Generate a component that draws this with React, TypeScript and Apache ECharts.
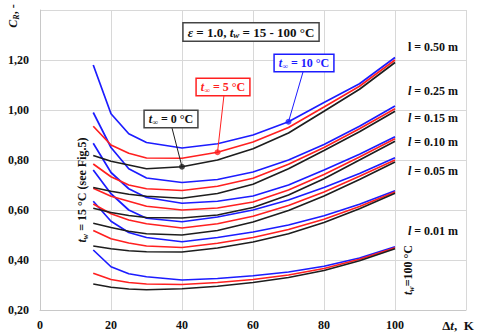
import React, { useEffect, useRef } from "react";
import * as echarts from "echarts";

// Δt, K
const X = [15, 20, 25, 30, 40, 50, 60, 70, 80, 90, 100];

// l = 0.50 m
const blue050 = [1.18, 0.985, 0.905, 0.87, 0.848, 0.865, 0.9, 0.953, 1.03, 1.105, 1.21];
const red050 = [0.935, 0.86, 0.827, 0.808, 0.807, 0.831, 0.872, 0.93, 1.012, 1.095, 1.2];
const black050 = [0.818, 0.795, 0.78, 0.765, 0.773, 0.8, 0.845, 0.908, 0.995, 1.083, 1.19];
// l = 0.25 m
const blue025 = [0.99, 0.85, 0.765, 0.728, 0.71, 0.722, 0.752, 0.8, 0.862, 0.935, 1.016];
const red025 = [0.784, 0.733, 0.7, 0.685, 0.678, 0.695, 0.727, 0.783, 0.85, 0.925, 1.005];
const black025 = [0.69, 0.675, 0.663, 0.655, 0.647, 0.666, 0.703, 0.765, 0.838, 0.913, 0.995];
// l = 0.15 m
const blue015 = [0.867, 0.75, 0.685, 0.65, 0.627, 0.635, 0.656, 0.7, 0.76, 0.823, 0.893];
const red015 = [0.687, 0.655, 0.635, 0.615, 0.6, 0.608, 0.632, 0.68, 0.742, 0.812, 0.885];
const black015 = [0.607, 0.59, 0.578, 0.57, 0.568, 0.58, 0.61, 0.66, 0.725, 0.8, 0.875];
// l = 0.10 m
const blue010 = [0.76, 0.665, 0.6, 0.567, 0.553, 0.572, 0.6, 0.64, 0.69, 0.746, 0.809];
const red010 = [0.624, 0.585, 0.56, 0.545, 0.528, 0.545, 0.575, 0.618, 0.672, 0.735, 0.8];
const black010 = [0.547, 0.53, 0.515, 0.505, 0.5, 0.518, 0.552, 0.598, 0.656, 0.722, 0.792];
// l = 0.05 m
const blue005 = [0.635, 0.555, 0.51, 0.49, 0.473, 0.49, 0.512, 0.54, 0.577, 0.623, 0.677];
const red005 = [0.518, 0.485, 0.468, 0.456, 0.45, 0.467, 0.49, 0.522, 0.563, 0.614, 0.672];
const black005 = [0.456, 0.445, 0.437, 0.433, 0.432, 0.448, 0.472, 0.505, 0.55, 0.605, 0.667];
// l = 0.01 m
const blue001 = [0.44, 0.373, 0.345, 0.333, 0.32, 0.326, 0.337, 0.352, 0.375, 0.408, 0.453];
const red001 = [0.347, 0.322, 0.31, 0.304, 0.302, 0.31, 0.322, 0.34, 0.366, 0.403, 0.449];
const black001 = [0.304, 0.291, 0.284, 0.281, 0.285, 0.295, 0.31, 0.33, 0.358, 0.397, 0.445];

const X_TICKS_MAX_SHOWN = 100;
const Y_TICKS_MAX_SHOWN = 1.2;
const lengthLabels = ["l = 0.50 m", "l = 0.25 m", "l = 0.15 m", "l = 0.10 m", "l = 0.05 m", "l = 0.01 m"];

const BLUE = "#1c1cff";
const RED = "#ff2020";
const BLACK = "#1e1e1e";
const SERIF = "'Liberation Serif', 'DejaVu Serif', serif";

const groups = [
  { blue: blue050, red: red050, black: black050 },
  { blue: blue025, red: red025, black: black025 },
  { blue: blue015, red: red015, black: black015 },
  { blue: blue010, red: red010, black: black010 },
  { blue: blue005, red: red005, black: black005 },
  { blue: blue001, red: red001, black: black001 },
];

function lineSeries(arr: number[], color: string) {
  return {
    type: "line",
    data: X.map((x, i) => [x, arr[i]]),
    showSymbol: false,
    symbol: "none",
    lineStyle: { color, width: 1.7 },
    z: color === BLUE ? 3 : color === RED ? 4 : 5,
  };
}

function richStyle(color: string, size: number) {
  return {
    n: { fontFamily: SERIF, fontWeight: "bold", fontSize: size, fill: color, lineHeight: size + 2 },
    i: { fontFamily: SERIF, fontWeight: "bold", fontStyle: "italic", fontSize: size, fill: color, lineHeight: size + 2 },
    s: { fontFamily: SERIF, fontWeight: "bold", fontStyle: "italic", fontSize: Math.round(size * 0.7), fill: color, verticalAlign: "bottom", lineHeight: size - 2 },
  };
}

export default function App() {
  const ref = useRef<HTMLDivElement>(null);
  useEffect(() => {
    const chart = echarts.init(ref.current!, undefined, { renderer: "svg", width: 480, height: 334 });
    const series: any[] = [];
    groups.forEach((g) => {
      series.push(lineSeries(g.blue, BLUE));
      series.push(lineSeries(g.red, RED));
      series.push(lineSeries(g.black, BLACK));
    });
    const dots = [
      { x: X[4], y: black050[4], c: BLACK },
      { x: X[5], y: red050[5], c: RED },
      { x: X[7], y: blue050[7], c: BLUE },
    ];
    dots.forEach((d) => {
      series.push({
        type: "scatter",
        data: [[d.x, d.y]],
        symbolSize: 6,
        itemStyle: { color: d.c },
        z: 10,
      });
    });
    chart.setOption({
      animation: false,
      backgroundColor: "#fff",
      grid: { left: 40, right: 14, top: 10, bottom: 24 },
      xAxis: {
        type: "value",
        min: 0,
        max: 120,
        interval: 20,
        axisLine: { show: true, lineStyle: { color: "#c8c8c8" } },
        axisTick: { show: false },
        splitLine: { show: true, lineStyle: { color: "#d8d8d8" } },
        axisLabel: {
          color: "#111",
          fontFamily: SERIF,
          fontWeight: "bold",
          fontSize: 12,
          margin: 9,
          formatter: (v: number) => (v > X_TICKS_MAX_SHOWN ? "" : String(v)),
        },
      },
      yAxis: {
        type: "value",
        min: 0.2,
        max: 1.4,
        interval: 0.2,
        axisLine: { show: true, lineStyle: { color: "#c8c8c8" } },
        axisTick: { show: false },
        splitLine: { show: true, lineStyle: { color: "#d8d8d8" } },
        axisLabel: {
          color: "#111",
          fontFamily: SERIF,
          fontWeight: "bold",
          fontSize: 12,
          margin: 11,
          formatter: (v: number) => (v > Y_TICKS_MAX_SHOWN + 0.01 ? "" : v.toFixed(2).replace(".", ",")),
        },
      },
      series,
    });

    const px = (x: number, y: number) => chart.convertToPixel({ gridIndex: 0 }, [x, y]) as number[];
    const pk = px(dots[0].x, dots[0].y);
    const pr = px(dots[1].x, dots[1].y);
    const pb = px(dots[2].x, dots[2].y);

    const box = (x: number, y: number, text: string, color: string, size: number, border: string) => ({
      type: "text",
      x,
      y,
      z: 20,
      style: {
        text,
        rich: richStyle(color, size),
        align: "center",
        verticalAlign: "middle",
        backgroundColor: "#fff",
        borderColor: border,
        borderWidth: 1.5,
        padding: [1, 4, 1, 4],
      },
    });
    const leader = (x1: number, y1: number, x2: number, y2: number, color: string) => ({
      type: "line",
      z: 15,
      shape: { x1, y1, x2, y2 },
      style: { stroke: color, lineWidth: 1 },
    });
    const plain = (x: number, y: number, text: string, rotation = 0, size = 12) => ({
      type: "text",
      x,
      y,
      rotation,
      z: 20,
      style: {
        text,
        rich: richStyle("#111", size),
        align: "center",
        verticalAlign: "middle",
      },
    });
    const labelY = [47, 91, 118, 142, 171, 231];

    chart.setOption({
      graphic: [
        leader(172, 128, pk[0], pk[1], BLACK),
        leader(224, 95, pr[0], pr[1], RED),
        leader(303, 72, pb[0], pb[1], BLUE),
        box(251, 32, "{i|ε}{n| = 1.0, }{i|t}{s|w}{n| = 15 - 100 °C}", "#111", 13, "#444"),
        box(171, 119, "{i|t}{s|∞}{n| = 0 °C}", "#111", 12, "#444"),
        box(223, 87, "{i|t}{s|∞}{n| = 5 °C}", RED, 12, RED),
        box(304, 63, "{i|t}{s|∞}{n| = 10 °C}", BLUE, 12, BLUE),
        ...lengthLabels.map((t, k) =>
          plain(433, labelY[k], k === 0 ? "{n|" + t + "}" : "{i|l}{n|" + t.slice(1) + "}")
        ),
        plain(82, 190, "{i|t}{s|w}{n| = 15 °C (see Fig.5)}", Math.PI / 2, 12),
        plain(408, 270, "{i|t}{s|w}{n|=100 °C}", Math.PI / 2, 12),
        plain(13, 16, "{i|C}{s|R}{n|, -}", Math.PI / 2, 12),
        plain(458, 325, "{n|Δ}{i|t}{n|,  K}", 0, 13),
      ],
    });
    return () => chart.dispose();
  }, []);
  return (
    <div
      ref={ref}
      style={{ position: "fixed", left: 0, top: 0, width: 480, height: 334, background: "#fff" }}
    />
  );
}
